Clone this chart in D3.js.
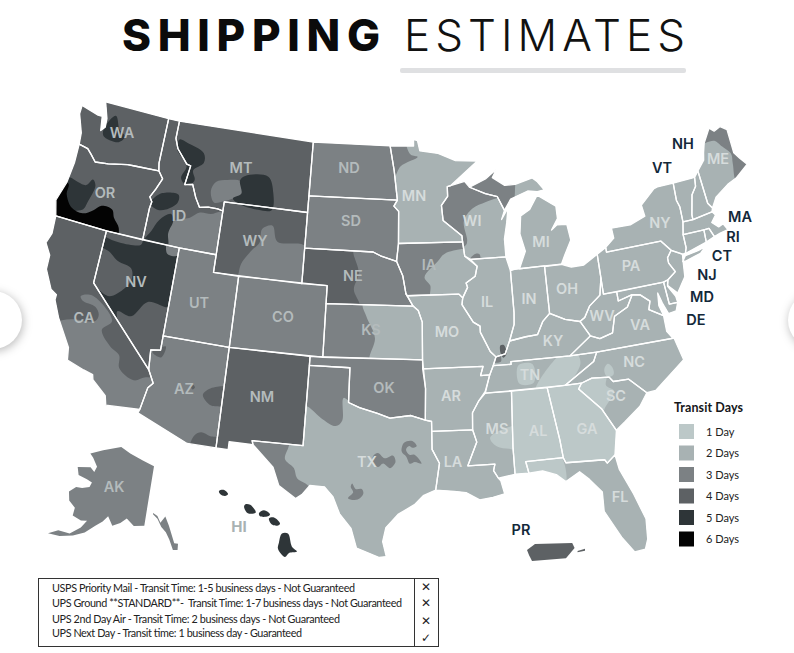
<!DOCTYPE html>
<meta charset="utf-8">
<style>
  html, body { margin: 0; background: #fff; overflow: hidden; }
  text { font-family: Inter, Lato, "Open Sans", sans-serif; }
</style>
<script src="https://d3js.org/d3.v7.min.js"></script>
<div id="my_dataviz"></div>
<script>

// legend
var legendLabels = ["1 Day", "2 Days", "3 Days", "4 Days", "5 Days", "6 Days"];
var dayColors = ["#bcc8c8", "#a8b2b3", "#7c8184", "#5d6164", "#2e3538", "#030303"];

// base transit days of each state
var stateNames = ["WA","OR","CA","NV","ID","MT","WY","UT","CO","AZ","NM","ND","SD","NE","KS","OK","TX","MN","IA","MO","AR","LA","WI","IL","IN","OH","MI","KY","TN","MS","AL","GA","FL","SC","NC","VA","WV","MD","DE","PA","NJ","NY","VT","NH","ME","MA","RI","CT"];
var stateDays  = [4,4,4,5,4,4,4,3,3,3,4,3,3,3,3,3,2,2,3,2,2,2,2,2,2,2,2,2,2,2,1,1,2,2,2,2,2,2,2,2,2,2,2,2,2,2,2,2];

// state outlines, lon/lat
var outlines = {
  WA: [[[-124.7,48.4],[-123.2,48.15],[-122.75,48.15],[-122.55,47.35],[-122.25,47.6],[-122.3,48.1],[-122.8,49],[-117.03,49],[-117.04,46.42],[-116.92,45.99],[-119,45.93],[-119.6,45.9],[-121.2,45.65],[-122.3,45.55],[-122.8,45.9],[-123.2,46.15],[-124,46.25],[-124.1,46.9],[-124.7,47.9]]],
  OR: [[[-124,46.25],[-123.2,46.15],[-122.8,45.9],[-122.3,45.55],[-121.2,45.65],[-119.6,45.9],[-119,45.93],[-116.92,45.99],[-116.47,45.6],[-116.85,44.95],[-117.2,44.45],[-116.95,44.2],[-117.03,43.8],[-117.03,42],[-120,42],[-124.2,42],[-124.55,42.85],[-124.1,44],[-123.95,45.2]]],
  CA: [[[-124.2,42],[-120,42],[-120,39],[-114.63,35],[-114.13,34.3],[-114.45,34],[-114.72,32.72],[-117.12,32.53],[-117.3,33.05],[-118.4,33.75],[-118.5,34.03],[-119.2,34.15],[-120.5,34.45],[-120.65,35.15],[-121.9,36.6],[-122.5,37.5],[-122.5,37.8],[-123,38],[-123.75,39],[-123.8,39.8],[-124.35,40.4],[-124.1,41]]],
  NV: [[[-120,42],[-114.04,42],[-114.04,36.2],[-114.75,36.1],[-114.63,35],[-120,39]]],
  ID: [[[-117.03,49],[-116.05,49],[-116.05,48],[-115.7,47.45],[-114.7,46.7],[-114.35,46.65],[-114.55,45.55],[-113.9,45.65],[-113.45,44.95],[-113,44.45],[-112.3,44.55],[-111.5,44.55],[-111.05,44.48],[-111.05,42],[-114.04,42],[-117.03,42],[-117.03,43.8],[-116.95,44.2],[-117.2,44.45],[-116.85,44.95],[-116.47,45.6],[-116.92,45.99],[-117.04,46.42]]],
  MT: [[[-116.05,49],[-104.05,49],[-104.05,45],[-111.05,45],[-111.05,44.48],[-111.5,44.55],[-112.3,44.55],[-113,44.45],[-113.45,44.95],[-113.9,45.65],[-114.55,45.55],[-114.35,46.65],[-114.7,46.7],[-115.7,47.45],[-116.05,48]]],
  WY: [[[-111.05,45],[-104.05,45],[-104.05,41],[-111.05,41]]],
  UT: [[[-114.04,42],[-111.05,42],[-111.05,41],[-109.05,41],[-109.05,37],[-114.04,37]]],
  CO: [[[-109.05,41],[-102.05,41],[-102.05,37],[-109.05,37]]],
  AZ: [[[-114.04,37],[-109.05,37],[-109.05,31.33],[-111.07,31.33],[-114.81,32.5],[-114.72,32.72],[-114.45,34],[-114.13,34.3],[-114.63,35],[-114.75,36.1],[-114.04,36.2]]],
  NM: [[[-109.05,37],[-103,37],[-103.05,32],[-106.62,32],[-106.53,31.78],[-108.2,31.78],[-108.2,31.33],[-109.05,31.33]]],
  ND: [[[-104.05,49],[-97.23,49],[-96.85,47.6],[-96.56,45.94],[-104.05,45.94]]],
  SD: [[[-104.05,45.94],[-96.56,45.94],[-96.85,45.6],[-96.45,45.3],[-96.45,43.5],[-96.6,42.5],[-97.9,42.8],[-98.5,43],[-104.05,43]]],
  NE: [[[-104.05,43],[-98.5,43],[-97.9,42.8],[-96.6,42.5],[-96.1,41.7],[-95.85,40.7],[-95.3,40],[-102.05,40],[-102.05,41],[-104.05,41]]],
  KS: [[[-102.05,40],[-95.3,40],[-94.9,39.75],[-94.6,39.1],[-94.62,37],[-102.05,37]]],
  OK: [[[-103,37],[-94.62,37],[-94.43,35.4],[-94.48,33.64],[-95.5,33.9],[-97,33.75],[-97.9,34],[-99.2,34.3],[-100,34.56],[-100,36.5],[-103,36.5]]],
  TX: [[[-103,36.5],[-100,36.5],[-100,34.56],[-99.2,34.3],[-97.9,34],[-97,33.75],[-95.5,33.9],[-94.48,33.64],[-94.04,33.55],[-94.04,33],[-94.04,31.99],[-93.55,31.2],[-93.85,29.7],[-94.7,29.4],[-95.3,28.9],[-96.4,28.35],[-97.2,27.6],[-97.4,26.8],[-97.15,25.96],[-97.6,25.9],[-99.1,26.4],[-99.5,27.5],[-100.3,28.3],[-100.8,29.25],[-101.4,29.77],[-102.4,29.8],[-102.9,29.25],[-103.3,29],[-104.5,29.65],[-105,30.65],[-106.53,31.78],[-106.62,32],[-103.05,32]]],
  MN: [[[-97.23,49],[-95.15,49],[-95.15,49.38],[-94.8,49.3],[-94.6,48.72],[-93,48.55],[-91.5,48.1],[-89.6,48],[-92,46.7],[-92.3,46.65],[-92.3,46.1],[-92.85,45.6],[-92.75,44.75],[-91.25,43.85],[-91.22,43.5],[-96.45,43.5],[-96.45,45.3],[-96.85,45.6],[-96.56,45.94],[-96.85,47.6]]],
  IA: [[[-96.45,43.5],[-91.22,43.5],[-91.1,42.7],[-90.15,42.1],[-90.35,41.55],[-91.1,41.2],[-91,40.95],[-91.42,40.38],[-91.7,40.6],[-95.77,40.58],[-95.85,40.7],[-96.1,41.7],[-96.6,42.5]]],
  MO: [[[-95.77,40.58],[-91.7,40.6],[-91.42,40.38],[-91.5,40],[-90.7,39],[-90.2,38.75],[-90.2,38.4],[-89.55,37.3],[-89.15,36.98],[-89.4,36.5],[-89.7,36],[-90.37,36],[-90.15,36.5],[-94.62,36.5],[-94.62,37],[-94.6,39.1],[-94.9,39.75],[-95.3,40],[-95.85,40.7]]],
  AR: [[[-94.62,36.5],[-90.15,36.5],[-90.37,36],[-89.7,36],[-90.1,35.1],[-90.6,34.6],[-91.1,33.95],[-91.15,33],[-94.04,33],[-94.04,33.55],[-94.48,33.64],[-94.43,35.4]]],
  LA: [[[-94.04,33],[-91.15,33],[-90.9,32.3],[-91.6,31],[-89.73,31],[-89.85,30.65],[-89.55,30.2],[-89.4,30.05],[-89.2,29.3],[-90,29.15],[-90.9,29.05],[-91.8,29.5],[-92.6,29.6],[-93.85,29.7],[-93.55,31.2],[-94.04,31.99]]],
  WI: [[[-92.3,46.65],[-92,46.7],[-90.8,46.9],[-90.4,46.55],[-89.1,46.13],[-88.1,45.9],[-87.6,45.1],[-87.9,44.6],[-87.3,45.2],[-87.5,44.4],[-87.8,43.5],[-87.8,42.49],[-90.65,42.5],[-91.1,42.7],[-91.22,43.5],[-91.25,43.85],[-92.75,44.75],[-92.85,45.6],[-92.3,46.1]]],
  IL: [[[-90.65,42.5],[-87.8,42.49],[-87.53,41.7],[-87.53,39.35],[-87.6,38.7],[-88.05,37.8],[-88.45,37.1],[-89.15,36.98],[-89.55,37.3],[-90.2,38.4],[-90.2,38.75],[-90.7,39],[-91.5,40],[-91.42,40.38],[-91,40.95],[-91.1,41.2],[-90.35,41.55],[-90.15,42.1]]],
  IN: [[[-87.53,41.7],[-87.2,41.75],[-86.8,41.76],[-84.8,41.76],[-84.82,39.1],[-85.4,38.7],[-85.9,38],[-86.8,37.95],[-88.05,37.8],[-87.6,38.7],[-87.53,39.35]]],
  OH: [[[-84.8,41.72],[-83.45,41.73],[-82.7,41.5],[-81.7,41.5],[-80.52,41.98],[-80.52,40.64],[-80.8,39.7],[-81.7,39.2],[-82.2,38.6],[-82.6,38.42],[-83.7,38.65],[-84.82,39.1]]],
  MI: [[[-86.8,41.76],[-84.8,41.76],[-83.45,41.73],[-83.1,42.2],[-82.45,43],[-82.6,43.9],[-83.4,43.95],[-83.9,43.7],[-83.3,44.3],[-83.3,45],[-84.75,45.75],[-85.5,45],[-86.3,44.7],[-86.5,43.7],[-86.2,42.7]],
       [[-90.4,46.55],[-89.1,46.13],[-88.1,45.9],[-87.6,45.1],[-87,45.7],[-85.5,46.05],[-84.7,45.95],[-84.1,46],[-84.6,46.5],[-85,46.75],[-86.5,46.5],[-87.4,46.5],[-88.4,47],[-88,47.45],[-89,46.95]]],
  KY: [[[-89.4,36.5],[-89.15,36.98],[-88.45,37.1],[-88.05,37.8],[-86.8,37.95],[-85.9,38],[-85.4,38.7],[-84.82,39.1],[-83.7,38.65],[-82.6,38.42],[-81.97,37.54],[-83.68,36.6],[-88.07,36.65],[-88.07,36.5]]],
  TN: [[[-89.4,36.5],[-88.07,36.5],[-88.07,36.65],[-83.68,36.6],[-81.68,36.59],[-82,36.1],[-84.3,35],[-90.1,35],[-89.7,36]]],
  MS: [[[-90.1,35],[-88.2,35],[-88.4,31.9],[-88.4,30.35],[-89.55,30.2],[-89.85,30.65],[-89.73,31],[-91.6,31],[-90.9,32.3],[-91.15,33],[-91.1,33.95],[-90.6,34.6]]],
  AL: [[[-88.2,35],[-85.6,35],[-85.1,32],[-85,31],[-87.6,31],[-87.45,30.35],[-88.4,30.35],[-88.4,31.9]]],
  GA: [[[-85.6,35],[-83.1,35],[-83.35,34.7],[-81.9,33.4],[-81.1,32.1],[-81.45,30.75],[-82.05,30.36],[-82.2,30.57],[-84.86,30.7],[-85,31],[-85.1,32]]],
  FL: [[[-87.6,31],[-85,31],[-84.86,30.7],[-82.2,30.57],[-82.05,30.36],[-81.45,30.75],[-81.3,29.9],[-80.6,28.4],[-80.05,26.9],[-80.15,25.75],[-80.4,25.2],[-81.1,25.15],[-81.8,26.1],[-82.7,27.7],[-82.65,28.8],[-83.4,29.6],[-84,30.1],[-85,29.65],[-85.6,30.1],[-86.5,30.4],[-87.45,30.35]]],
  SC: [[[-83.1,35],[-82.3,35.2],[-81.05,35.1],[-80.8,34.82],[-79.67,34.8],[-78.55,33.87],[-79.2,33.2],[-80.4,32.5],[-81.1,32.1],[-81.9,33.4],[-83.35,34.7]]],
  NC: [[[-84.3,35],[-82,36.1],[-81.68,36.59],[-75.87,36.55],[-75.5,35.25],[-76.5,34.7],[-77.9,33.9],[-78.55,33.87],[-79.67,34.8],[-80.8,34.82],[-81.05,35.1],[-82.3,35.2],[-83.1,35]]],
  VA: [[[-83.68,36.6],[-81.97,37.54],[-81.3,37.3],[-80.3,37.5],[-79.95,38.4],[-78.87,38.77],[-78.35,39.4],[-77.75,39.3],[-77.1,38.85],[-77.3,38.4],[-76.3,37.9],[-76.3,37],[-75.95,36.55],[-81.68,36.59]]],
  WV: [[[-82.6,38.42],[-82.2,38.6],[-81.7,39.2],[-80.8,39.7],[-80.52,40.64],[-80.52,39.72],[-79.48,39.72],[-79.48,39.2],[-78.35,39.4],[-77.75,39.3],[-78.35,39.4],[-78.87,38.77],[-79.95,38.4],[-80.3,37.5],[-81.3,37.3],[-81.97,37.54]]],
  MD: [[[-79.48,39.72],[-75.79,39.72],[-75.7,38.46],[-75.05,38.45],[-75.3,38],[-75.9,37.95],[-76.2,38.6],[-76.4,39.2],[-76.5,38.5],[-76.3,37.9],[-77.3,38.4],[-77.1,38.85],[-77.75,39.3],[-78.35,39.4],[-79.48,39.2]]],
  DE: [[[-75.79,39.72],[-75.42,39.8],[-75.55,39.45],[-75.1,38.8],[-75.05,38.45],[-75.7,38.46]]],
  PA: [[[-80.52,41.98],[-79.76,42.27],[-79.76,42],[-75.35,42],[-74.7,41.36],[-75.1,41],[-75.1,40.7],[-74.73,40.15],[-75.42,39.8],[-75.79,39.72],[-80.52,39.72],[-80.52,40.64]]],
  NJ: [[[-75.1,41],[-74.7,41.36],[-73.9,41],[-74,40.4],[-74.1,39.75],[-74.9,38.95],[-75.55,39.5],[-75.42,39.8],[-74.73,40.15],[-75.1,40.7]]],
  NY: [[[-79.76,42.27],[-79,42.7],[-79.05,43.27],[-77.5,43.25],[-76.2,43.55],[-76.3,44.2],[-75,44.95],[-74.7,45],[-73.34,45],[-73.4,44],[-73.25,43.6],[-73.28,42.75],[-73.5,42.05],[-73.5,41.3],[-73.66,41],[-73.9,41],[-74.7,41.36],[-75.35,42],[-79.76,42]],
       [[-74,40.6],[-73.7,40.88],[-72.6,40.98],[-72,41.1],[-72.5,40.8],[-73.8,40.58]]],
  VT: [[[-73.34,45],[-71.5,45],[-71.6,44.5],[-72.05,44.1],[-72.45,43],[-72.46,42.73],[-73.28,42.75],[-73.25,43.6],[-73.4,44]]],
  NH: [[[-71.5,45],[-71.1,45.3],[-70.98,43.4],[-70.7,43.07],[-70.82,42.87],[-72.46,42.73],[-72.45,43],[-72.05,44.1],[-71.6,44.5]]],
  ME: [[[-71.1,45.3],[-70.4,45.8],[-70.25,46.2],[-70,46.7],[-69.25,47.45],[-68.9,47.2],[-68.3,47.35],[-67.8,47.07],[-67.8,45.7],[-67.45,45.3],[-67,44.85],[-68.2,44.3],[-69,44.1],[-70.2,43.6],[-70.7,43.07],[-70.98,43.4]]],
  MA: [[[-73.5,42.05],[-73.28,42.75],[-72.46,42.73],[-70.82,42.87],[-70.6,42.65],[-71.05,42.3],[-70.6,41.95],[-70.2,42.05],[-69.95,41.67],[-70.6,41.6],[-71.12,41.5],[-71.38,42.02],[-71.8,42.02]]],
  RI: [[[-71.8,42.02],[-71.38,42.02],[-71.12,41.5],[-71.85,41.32]]],
  CT: [[[-73.5,42.05],[-71.8,42.02],[-71.85,41.32],[-73.66,41],[-73.5,41.3]]]
};

// transit zones that differ from the state's base, lon/lat, painted in order
var zones = [
  {days:5, in:["WA"], ring:[[-121.6,48.4],[-121,47.7],[-120.4,47.4],[-120.8,47],[-122.2,47.1],[-122.3,47.6]]},
  {days:5, in:["OR"], ring:[[-123.93,44.3],[-122.54,44.15],[-122.1,44.57],[-121.77,44.28],[-122.03,43.28],[-122.3,42.76],[-124.8,42.5],[-124.6,44.3]]},
  {days:6, in:["OR"], ring:[[-124.9,41.9],[-119.1,41.95],[-119.1,42.33],[-119.65,42.8],[-119.97,43.24],[-120.87,43.28],[-121.45,42.9],[-122.2,42.58],[-123.15,42.7],[-123.85,43.36],[-123.93,43.93],[-124.9,44]]},
  {days:5, in:["ID"], ring:[[-117.1,44.1],[-116.95,44.33],[-116.26,44.81],[-114.9,44.92],[-114.86,44.45],[-115.7,43.95],[-116.37,43.84]]},
  {days:3, in:["ID","NV"], ring:[[-114.93,43.4],[-113.64,43.78],[-112.9,44.17],[-112,44.2],[-111,44.4],[-111,41.9],[-114,41.8],[-114.05,41.55],[-114.9,41.55],[-115.14,42.7]]},
  {days:5, in:["ID"], ring:[[-115.2,43.77],[-116.05,43.3],[-116.5,42.6],[-116.9,41.95],[-115,41.95],[-115.14,42.7],[-114.93,43.4]]},
  {days:3, in:["MT"], ring:[[-112.3,45.47],[-112,46.03],[-111.05,46.25],[-109.9,46.27],[-109.73,45.6],[-110.38,45.27],[-111.05,45.05],[-111.87,44.86]]},
  {days:5, in:["MT","ID"], ring:[[-115.72,47.99],[-114.97,47.89],[-113.43,47.5],[-113.29,46.95],[-114.07,46.43],[-113.8,45.9],[-114.35,45.5],[-114.96,45.87],[-114.69,46.6],[-115.77,47.42]]},
  {days:5, in:["MT","WY"], ring:[[-110,46.33],[-109.62,46.63],[-107.65,46.77],[-107.07,45.89],[-107.05,44.92],[-108.17,44.84],[-109.9,45.03],[-110.38,45.27],[-109.73,45.6]]},
  {days:3, in:["WY"], ring:[[-109.08,41.23],[-108.99,41.7],[-108.36,42.47],[-107.72,43.05],[-107.65,43.8],[-106.83,44.06],[-106.3,43.2],[-104,43.1],[-104,40.9],[-109.08,40.9]]},
  {days:4, in:["NV"], ring:[[-119.5,40.94],[-118.57,40.52],[-117.43,40.3],[-117.22,39.7],[-117.58,39.16],[-118.6,38.5],[-119.6,38.74],[-120.5,39],[-120.5,41]]},
  {days:4, in:["NV"], ring:[[-120,42.1],[-117.1,42.1],[-117.1,41.7],[-120,41.7]]},
  {days:4, in:["NV"], ring:[[-117.76,37.8],[-116.67,37.7],[-115.65,38.68],[-114.3,38.6],[-113.9,38.6],[-113.9,34.5],[-118,34.5],[-118,36.7],[-117.53,37]]},
  {days:3, in:["CA"], ring:[[-120.7,38.1],[-119.86,38.3],[-117.98,37.2],[-118.58,36.58],[-117.69,35.78],[-116.94,35.43],[-116.73,34.72],[-115.55,34.24],[-114.72,34.55],[-113.9,34.5],[-113.9,32],[-118,32],[-123,36],[-122.17,36.3],[-120.96,36.7],[-119.2,36.96],[-119.06,37.35],[-119.43,37.72],[-120.5,37.88]]},
  {days:4, in:["AZ"], ring:[[-109.22,34.8],[-110.1,34.54],[-110.48,34.15],[-109.83,33.65],[-109.05,33.65],[-108.9,33.6],[-108.9,34.8]]},
  {days:4, in:["AZ"], ring:[[-110.64,31.85],[-110.22,32.07],[-109.55,31.93],[-109,31.9],[-109,31.2],[-110.8,31.2]]},
  {days:4, in:["AZ"], ring:[[-111.42,34.49],[-111.27,34.62],[-111.12,34.49],[-111.27,34.36]]},
  {days:4, in:["AZ"], ring:[[-114.6,36],[-113.7,36.45],[-113.9,35.8]]},
  {days:3, in:["TX"], ring:[[-103.2,36.7],[-99.8,36.7],[-99.8,34.6],[-100.37,34.8],[-100.4,33.53],[-100.84,33.21],[-101.8,33.55],[-102.9,34.19],[-103.2,34.2]]},
  {days:3, in:["TX"], ring:[[-104.05,32.1],[-104.05,31.87],[-104.23,31.17],[-103.57,30.7],[-103.3,30.15],[-102.44,29.7],[-102.85,28.8],[-107,29],[-107,32.1]]},
  {days:3, in:["TX"], ring:[[-98.15,31.6],[-97.82,31.79],[-97.34,31.5],[-96.77,31.66],[-96.59,31.3],[-96.97,30.95],[-97.44,31.2],[-97.78,31],[-98.13,31.2]]},
  {days:3, in:["TX"], ring:[[-96.16,31.89],[-96,32.38],[-95.43,32.48],[-95.11,32.19],[-95.4,32.09],[-95.64,32.19],[-95.86,31.99],[-95.62,31.7],[-95.27,31.7],[-94.79,31.2],[-95.25,31.3],[-95.59,31.2],[-95.84,31.6]]},
  {days:3, in:["TX"], ring:[[-99.53,30.03],[-99.29,29.74],[-98.87,29.74],[-98.75,29.5],[-99.12,29.15],[-99.77,29.19],[-99.44,29.54],[-99.62,29.83]]},
  {days:2, in:["KS"], ring:[[-99.17,40.1],[-98.9,39.4],[-98.2,38.2],[-98.5,36.9],[-94,36.9],[-94,40.1]]},
  {days:4, in:["NE"], ring:[[-105,43.2],[-100.1,43.2],[-100.1,42.9],[-99.6,41.8],[-99.94,40.87],[-99.47,39.9],[-105,39.9]]},
  {days:3, in:["MN"], ring:[[-97.5,49.2],[-95.76,49.2],[-95.76,48.96],[-95.4,48.5],[-94.8,48.37],[-96.29,47.85],[-96.88,47.2],[-97.5,47.2]]},
  {days:3, in:["WI"], ring:[[-93.5,47.2],[-88,47],[-87.5,46],[-87.8,45.9],[-89.1,45.66],[-90.26,45.34],[-91.03,44.66],[-90.84,43.56],[-91,43.3],[-93.5,43.3]]},
  {days:3, in:["WI"], ring:[[-90.65,42.55],[-90.2,42.8],[-89.9,42.75],[-89.9,42.45]]},
  {days:2, in:["IA"], ring:[[-94.37,41.6],[-93.3,42.46],[-92.67,42.9],[-90.5,42.95],[-90.5,40.2],[-93.9,40.2],[-93.93,41.13]]},
  {days:3, in:["MI"], ring:[[-91,45],[-87.2,45],[-86.5,46.5],[-86.5,48],[-91,48]]},
  {days:3, in:["ME"], ring:[[-69.83,46.71],[-69.1,46.67],[-68.67,46.3],[-68.04,45.7],[-68.13,45.14],[-68.2,44],[-66,44],[-66,48.5],[-70.5,48.5],[-70.5,46.71]]},
  {days:1, in:["TN"], ring:[[-86.44,34.9],[-84.92,36.44],[-84.36,36.7],[-83.19,36.7],[-82.99,36.07],[-84.46,34.9]]},
  {days:1, in:["TN"], ring:[[-87.55,36.4],[-86.5,36.4],[-86.52,35.37],[-87.57,35.37]]},
  {days:1, in:["MS"], ring:[[-89.95,32.5],[-88.56,33.02],[-88,33],[-88,31.7],[-88.67,31.8],[-89.5,31.98]]},
  {days:1, in:["FL"], ring:[[-88,29],[-85.25,29],[-85.25,31.2],[-88,31.2]]},
  {days:1, in:["SC"], ring:[[-83.5,35.3],[-81.23,35.3],[-81.36,34.66],[-80.85,34.29],[-81.66,33.45],[-82,33],[-83.5,33]]},
  {days:1, in:["NC"], ring:[[-81.3,35.3],[-81.3,35.6],[-81,35.85],[-80.7,35.6],[-80.7,35.2],[-81.1,35.1]]},
  {days:4, in:["IL","KY"], ring:[[-88.75,37.6],[-88.5,37.6],[-88.35,37.1],[-88.6,36.9],[-88.8,37.2]]},
  {days:3, in:["KY"], ring:[[-89.4,37.2],[-88.9,37.2],[-88.8,36.7],[-89.4,36.7]]}
];

// insets, lon/lat
var alaskaRing = [[-141,69.65],[-141,60.3],[-144,60],[-146.5,60.9],[-148,60],[-150,59.3],[-152,60.5],[-153,59.5],[-154.5,58.5],[-156.5,57],[-159,55.9],[-162,55],[-164.9,54.6],[-163,55.7],[-160,56],[-158,57.5],[-157.2,58.8],[-158.8,58.5],[-161.5,58.7],[-162,59.9],[-164.5,60.5],[-166,61.7],[-164.8,62.8],[-163,63.1],[-161,63.7],[-161,64.5],[-163,64.6],[-166.2,64.6],[-168,65.6],[-164,66.5],[-162,66.1],[-162,67],[-165,68],[-166.8,68.35],[-163,69.7],[-156.7,71.3],[-152,70.8],[-146,70.2]];
var panhandleRing = [[-141,60],[-139,59.7],[-137.5,58.8],[-135.5,59.8],[-133.8,58.5],[-131.5,56],[-130,55.9],[-130.2,55],[-132,55],[-133.5,56.5],[-135,57.5],[-137,58.2],[-138.9,59.3],[-141,59.8]];
var hawaiiRings = [
  [[-159.72,22.18],[-159.4,22.23],[-159.15,22.03],[-159.34,21.93],[-159.65,22.03]],
  [[-158.14,21.4],[-158.05,21.53],[-157.75,21.5],[-157.4,21.12],[-157.9,21.08]],
  [[-157.2,21.08],[-156.88,21.23],[-156.5,21.03],[-156.63,20.93],[-157.13,20.93]],
  [[-156.57,20.82],[-156.25,20.87],[-155.87,20.57],[-156,20.47],[-156.38,20.52]],
  [[-155.75,20.07],[-155.37,20.07],[-155.12,19.42],[-154.8,19.17],[-155.3,19.1],[-155.56,18.9],[-156,19.31],[-155.94,19.62]]
];
var puertoRicoRings = [
  [[-67.25,18.29],[-66.98,18.47],[-65.73,18.5],[-65.65,18.35],[-65.94,18.04],[-67.08,17.96],[-67.18,18.13]],
  [[-65.55,18.26],[-65.3,18.33],[-65.3,18.27],[-65.55,18.22]]
];

// shipping table
var serviceRows = [
  "USPS Priority Mail - Transit Time: 1-5 business days - Not Guaranteed",
  "UPS Ground **STANDARD**-  Transit Time: 1-7 business days - Not Guaranteed",
  "UPS 2nd Day Air - Transit Time: 2 business days - Not Guaranteed",
  "UPS Next Day - Transit time: 1 business day - Guaranteed"
];
var serviceMarks = ["\u2715", "\u2715", "\u2715", "\u2713"];

// layout only
var labelAt = {WA:[122,132],OR:[105,192],ID:[179,215],MT:[241,167],WY:[255,240],NV:[136,281],CA:[84,317],UT:[199,302],CO:[283,316],AZ:[184,388],NM:[262,396],ND:[349,167],SD:[351,220],NE:[353,275],KS:[371,329],OK:[384,387],TX:[367,461],MN:[414,195],IA:[429,264],WI:[472,220],IL:[487,301],IN:[529,298],MI:[541,241],MO:[447,331],AR:[451,395],LA:[453,461],MS:[497,428],AL:[538,430],TN:[530,374],KY:[553,340],OH:[567,288],PA:[631,265],NY:[660,222],WV:[602,315],VA:[640,324],NC:[634,361],SC:[616,395],GA:[587,428],FL:[620,496],ME:[718,158],AK:[114,486]};
var outerLabelAt = {NH:[683,143],VT:[662,167],MA:[740,216],RI:[733,236],CT:[722,255],NJ:[707,274],MD:[702,296],DE:[696,319],PR:[521,529]};
var lightLabels = ["MN","WI","IL","IN","MI","MO","AR","LA","MS","AL","TN","KY","OH","PA","NY","WV","VA","NC","SC","GA","FL","ME","TX"];

var svg = d3.select("#my_dataviz")
  .append("svg")
    .attr("width", 794)
    .attr("height", 653);

// carousel buttons at the page edges
[[-7, 320], [817, 320]].forEach(function(c) {
  svg.append("circle").attr("cx", c[0]).attr("cy", c[1]).attr("r", 29)
    .style("fill", "#fff")
    .style("filter", "drop-shadow(1px 2px 5px rgba(0,0,0,.28))");
});

// title
svg.append("text").attr("x", 122).attr("y", 51).text("SHIPPING")
  .attr("textLength", 258).attr("lengthAdjust", "spacing")
  .style("font-size", "44px").style("font-weight", 800).style("fill", "#0b0b0b");
svg.append("text").attr("x", 404).attr("y", 51).text("ESTIMATES")
  .attr("textLength", 281).attr("lengthAdjust", "spacing")
  .style("font-size", "44px").style("font-weight", 300).style("fill", "#111");
svg.append("rect").attr("x", 400).attr("y", 68).attr("width", 286).attr("height", 5).attr("rx", 2)
  .style("fill", "#dfe0e2");

// projection for the lower 48, stretched a little in y to sit like the picture
var projection = d3.geoConicEqualArea().parallels([29.5, 45.5]).rotate([96, 0]).center([0, 37.5]).scale(1).translate([0, 0]);
var x = d3.scaleLinear().domain([0, 1]).range([404, 404 + 973]);
var y = d3.scaleLinear().domain([0, 1]).range([351, 351 + 1018]);

var lineOf = function(curve) {
  return d3.line()
    .x(function(p) { return x(projection(p)[0]); })
    .y(function(p) { return y(projection(p)[1]); })
    .curve(curve);
};
var stateLine = lineOf(d3.curveLinearClosed);
var zoneLine = lineOf(d3.curveCatmullRomClosed.alpha(0.5));
var ringsPath = function(rings) { return rings.map(stateLine).join(""); };

var defs = svg.append("defs");
var map = svg.append("g");

stateNames.forEach(function(name, i) {
  defs.append("clipPath").attr("id", "clip-" + name)
    .append("path").attr("d", ringsPath(outlines[name]));

  var g = map.append("g").attr("clip-path", "url(#clip-" + name + ")");
  g.append("path").attr("d", ringsPath(outlines[name])).style("fill", dayColors[stateDays[i] - 1]);
  zones.filter(function(z) { return z.in.indexOf(name) >= 0; }).forEach(function(z) {
    g.append("path").attr("d", zoneLine(z.ring)).style("fill", dayColors[z.days - 1]);
  });
});

// state borders on top
stateNames.forEach(function(name) {
  map.append("path").attr("d", ringsPath(outlines[name]))
    .style("fill", "none").style("stroke", "#fff").style("stroke-width", 1.3).style("stroke-linejoin", "round");
});

// insets: projected rings fitted into their box through linear scales
function drawInset(rings, proj, box, days, curve) {
  var pts = rings.flat().map(function(p) { return proj(p); });
  var sx = d3.scaleLinear().domain(d3.extent(pts, function(p) { return p[0]; })).range([box[0], box[2]]);
  var sy = d3.scaleLinear().domain(d3.extent(pts, function(p) { return p[1]; })).range([box[1], box[3]]);
  var line = d3.line()
    .x(function(p) { return sx(proj(p)[0]); })
    .y(function(p) { return sy(proj(p)[1]); })
    .curve(curve);
  svg.append("g").selectAll("path").data(rings).enter().append("path")
    .attr("d", line)
    .style("fill", dayColors[days - 1]);
}
var alaskaProj = d3.geoConicEqualArea().parallels([55, 65]).rotate([131, 0]).center([0, 60]);
var round = d3.curveCatmullRomClosed.alpha(0.5);
drawInset([alaskaRing], alaskaProj, [48, 447, 154, 536], 3, d3.curveLinearClosed);
drawInset([panhandleRing], alaskaProj, [153, 513, 178, 550], 3, d3.curveLinearClosed);
drawInset(hawaiiRings, d3.geoMercator().rotate([157, 0]), [219, 490, 297, 557], 5, round);
drawInset(puertoRicoRings, d3.geoMercator().rotate([66, 0]), [527, 543, 585, 561], 4, d3.curveLinearClosed);

// state labels
svg.append("g").selectAll("text").data(Object.keys(labelAt)).enter().append("text")
  .attr("x", function(d) { return labelAt[d][0]; })
  .attr("y", function(d) { return labelAt[d][1]; })
  .attr("text-anchor", "middle").attr("dominant-baseline", "central")
  .text(function(d) { return d; })
  .style("font-size", "14.5px").style("font-weight", 600)
  .style("fill", function(d) { return lightLabels.indexOf(d) >= 0 ? "#d6dcdc" : "#b4bbbc"; });

svg.append("text").attr("x", 239).attr("y", 526).attr("text-anchor", "middle").attr("dominant-baseline", "central")
  .text("HI").style("font-size", "15px").style("font-weight", 700).style("fill", "#a8b2b3");

svg.append("g").selectAll("text").data(Object.keys(outerLabelAt)).enter().append("text")
  .attr("x", function(d) { return outerLabelAt[d][0]; })
  .attr("y", function(d) { return outerLabelAt[d][1]; })
  .attr("text-anchor", "middle").attr("dominant-baseline", "central")
  .text(function(d) { return d; })
  .style("font-size", "14.5px").style("font-weight", 600).style("fill", "#13283a");

// legend
svg.append("text").attr("x", 674).attr("y", 412).text("Transit Days")
  .attr("textLength", 69)
  .style("font-family", "Lato").style("font-size", "12.5px").style("font-weight", 700).style("fill", "#15171a");
var legendY = d3.scalePoint().domain(legendLabels).range([424, 531.5]);
var legend = svg.append("g").selectAll("g").data(legendLabels).enter().append("g")
  .attr("transform", function(d) { return "translate(679," + legendY(d) + ")"; });
legend.append("rect").attr("width", 15).attr("height", 15)
  .style("fill", function(d, i) { return dayColors[i]; });
legend.append("text").attr("x", 27).attr("y", 11.5).text(function(d) { return d; })
  .style("font-family", "Lato").style("font-size", "11px").style("fill", "#222");

// shipping table
var table = svg.append("g");
table.append("rect").attr("x", 38.5).attr("y", 578.5).attr("width", 400).attr("height", 68)
  .style("fill", "none").style("stroke", "#333");
table.append("line").attr("x1", 414.5).attr("x2", 414.5).attr("y1", 578.5).attr("y2", 646.5).style("stroke", "#333");
var rowY = [592, 607, 623, 637], markY = [587, 603, 621, 638], rowEnd = [355, 402, 340, 302];
table.selectAll("text.row").data(serviceRows).enter().append("text").attr("class", "row")
  .attr("x", 52).attr("y", function(d, i) { return rowY[i]; })
  .attr("textLength", function(d, i) { return rowEnd[i] - 52; })
  .attr("xml:space", "preserve")
  .text(function(d) { return d; })
  .style("font-family", "Lato").style("font-size", "10.8px").style("fill", "#222");
table.selectAll("text.mark").data(serviceMarks).enter().append("text").attr("class", "mark")
  .attr("x", 426).attr("y", function(d, i) { return markY[i]; })
  .attr("text-anchor", "middle").attr("dominant-baseline", "central")
  .text(function(d) { return d; })
  .style("font-family", "DejaVu Sans").style("font-size", "12px").style("fill", "#222");

</script>
